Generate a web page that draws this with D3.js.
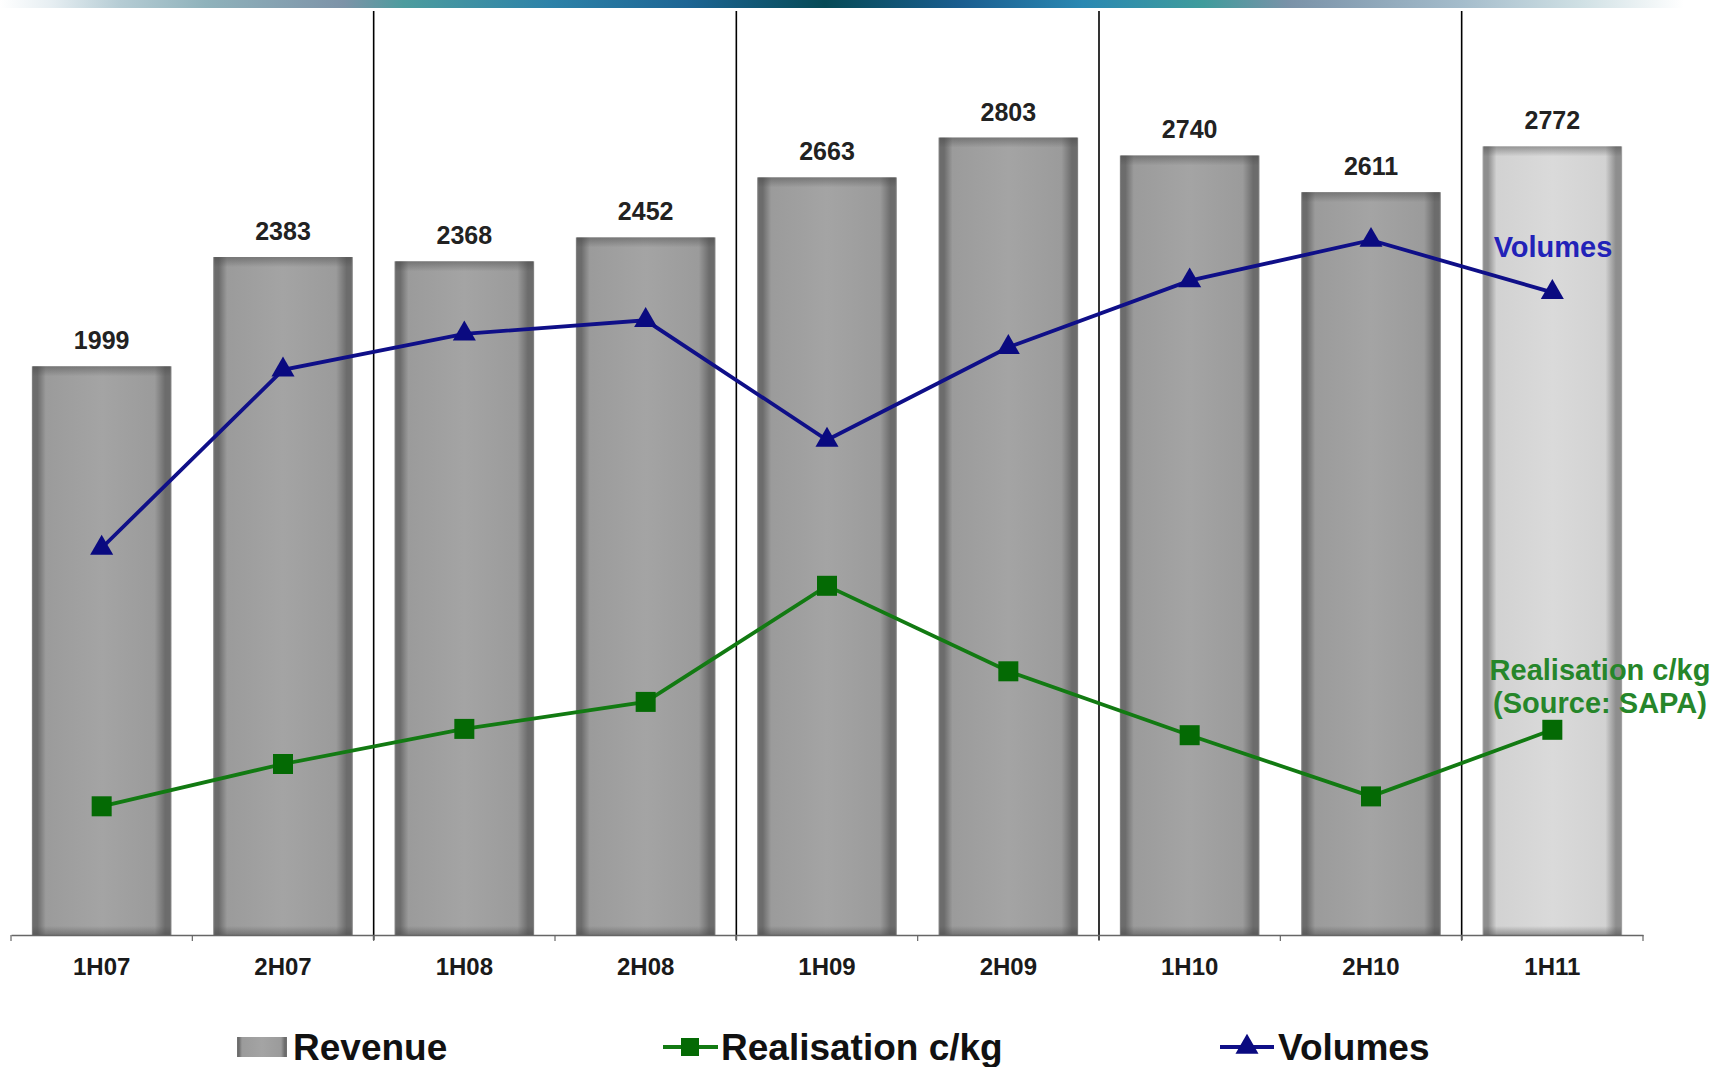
<!DOCTYPE html>
<html>
<head>
<meta charset="utf-8">
<script src="https://cdn.jsdelivr.net/npm/d3@7"></script>
<style>
  html, body { margin: 0; padding: 0; background: #ffffff; }
  svg { display: block; }
  text { font-family: "Liberation Sans", Arial, sans-serif; }
</style>
</head>
<body>
<svg id="chart" width="1718" height="1067"></svg>
<script>
// Half-year periods
const categories = ["1H07", "2H07", "1H08", "2H08", "1H09", "2H09", "1H10", "2H10", "1H11"];
// Revenue per half-year (bars, labelled)
const revenue = [1999, 2383, 2368, 2452, 2663, 2803, 2740, 2611, 2772];
// Volumes (index, plotted on its own unlabelled axis)
const volumes = [43.0, 62.8, 66.8, 68.3, 55.0, 65.3, 72.7, 77.2, 71.4];
// Realisation c/kg (index, plotted on its own unlabelled axis)
const realisation = [14.3, 19.0, 22.9, 25.9, 38.8, 29.3, 22.2, 15.4, 22.8];
// Periods shown as the latest / highlighted bar
const highlighted = ["1H11"];

const svg = d3.select("#chart");
const W = 1718, H = 1067;
const left = 11, right = 1643, baseY = 935;

const defs = svg.append("defs");

// Banner gradient along the top edge
const banner = defs.append("linearGradient").attr("id", "banner")
  .attr("x1", "0%").attr("x2", "100%").attr("y1", "0%").attr("y2", "0%");
[
  [0, "#ffffff"], [0.03, "#e6eef2"], [0.07, "#b5ccd4"], [0.12, "#8fb2bb"],
  [0.2, "#7d93a8"], [0.235, "#4d9c9e"], [0.32, "#2d82a8"], [0.4, "#1d6594"],
  [0.48, "#064a56"], [0.56, "#1b5e90"], [0.63, "#2a88b2"], [0.7, "#3f9c9c"],
  [0.75, "#7a92a8"], [0.85, "#a4bccb"], [0.92, "#cfe0e4"], [0.98, "#ffffff"], [1, "#ffffff"]
].forEach(([o, c]) => banner.append("stop").attr("offset", o).attr("stop-color", c));

// Bar shading: soft darker rim on the sides, flat middle
function barGradient(id, rim, dark, mid, centre) {
  const g = defs.append("linearGradient").attr("id", id)
    .attr("x1", "0%").attr("x2", "100%").attr("y1", "0%").attr("y2", "0%");
  [[0, rim], [0.012, dark], [0.04, dark], [0.1, mid], [0.5, centre], [0.88, mid],
   [0.955, dark], [0.988, dark], [1, rim]]
    .forEach(([o, c]) => g.append("stop").attr("offset", o).attr("stop-color", c));
}
barGradient("barDark", "#8a8a8a", "#6c6c6c", "#9b9b9b", "#a4a4a4");
barGradient("barLight", "#a8a8a8", "#8e8e8e", "#d2d2d2", "#dadada");

// Vertical shade strips for the top and bottom rims
function shade(id, fromTop) {
  const v = defs.append("linearGradient").attr("id", id)
    .attr("x1", "0%").attr("x2", "0%").attr("y1", fromTop ? "0%" : "100%").attr("y2", fromTop ? "100%" : "0%");
  v.append("stop").attr("offset", 0).attr("stop-color", "#444").attr("stop-opacity", 0.45);
  v.append("stop").attr("offset", 0.35).attr("stop-color", "#444").attr("stop-opacity", 0.3);
  v.append("stop").attr("offset", 1).attr("stop-color", "#444").attr("stop-opacity", 0);
}
shade("shadeTop", true);
shade("shadeBottom", false);

svg.append("rect").attr("x", 0).attr("y", 0).attr("width", W).attr("height", 8)
  .attr("fill", "url(#banner)");

// Scales
const x = d3.scaleBand().domain(categories).range([left, right])
  .paddingInner(0.23).paddingOuter(0.115);
const step = x.step();
const y = d3.scaleLinear().domain([0, 3000]).range([baseY, baseY - 3000 * 0.2845]);
const yVol = d3.scaleLinear().domain([0, 100]).range([baseY, 35]);
const yReal = d3.scaleLinear().domain([0, 100]).range([baseY, 35]);
const cx = c => x(c) + x.bandwidth() / 2;

// Bars
const bars = svg.append("g");
const rows = categories.map((c, i) => ({ c, v: revenue[i], hi: highlighted.includes(c) }));
bars.selectAll("rect.bar").data(rows).join("rect").attr("class", "bar")
  .attr("x", d => x(d.c)).attr("y", d => y(d.v))
  .attr("width", x.bandwidth()).attr("height", d => y(0) - y(d.v))
  .attr("fill", d => d.hi ? "url(#barLight)" : "url(#barDark)");
bars.selectAll("rect.top").data(rows).join("rect").attr("class", "top")
  .attr("x", d => x(d.c) + 1).attr("y", d => y(d.v))
  .attr("width", x.bandwidth() - 2).attr("height", 10)
  .attr("fill", "url(#shadeTop)");
bars.selectAll("rect.bottom").data(rows).join("rect").attr("class", "bottom")
  .attr("x", d => x(d.c) + 1).attr("y", y(0) - 9)
  .attr("width", x.bandwidth() - 2).attr("height", 9)
  .attr("fill", "url(#shadeBottom)");

// Value labels
svg.append("g").selectAll("text").data(rows).join("text")
  .attr("x", d => cx(d.c)).attr("y", d => y(d.v) - 17)
  .attr("text-anchor", "middle").attr("font-size", 25).attr("font-weight", "bold")
  .attr("fill", "#222").text(d => d.v);

// Year separators
svg.append("g").selectAll("line").data([2, 4, 6, 8]).join("line")
  .attr("x1", i => left + i * step).attr("x2", i => left + i * step)
  .attr("y1", 11).attr("y2", baseY + 5)
  .attr("stroke", "#000").attr("stroke-width", 1.6);

// Category axis
const axis = d3.axisBottom(x).tickSize(0).tickPadding(0);
const gx = svg.append("g").attr("transform", `translate(0,${baseY})`).call(axis);
gx.select(".domain").attr("stroke", "#666").attr("stroke-width", 1.5);
gx.selectAll(".tick text").attr("font-size", 24).attr("font-weight", "bold")
  .attr("fill", "#1a1a1a").attr("dy", 0).attr("y", 40)
  .attr("font-family", "'Liberation Sans', Arial, sans-serif");
svg.append("g").selectAll("line").data(d3.range(categories.length + 1)).join("line")
  .attr("x1", i => left + i * step).attr("x2", i => left + i * step)
  .attr("y1", baseY).attr("y2", baseY + 6).attr("stroke", "#666").attr("stroke-width", 1.2);

// Lines
const volColor = "#0f0f88", realColor = "#127a12";
const line = (scale) => d3.line().x(d => cx(d.c)).y(d => scale(d.v));
const volData = categories.map((c, i) => ({ c, v: volumes[i] }));
const realData = categories.map((c, i) => ({ c, v: realisation[i] }));

svg.append("path").datum(realData).attr("d", line(yReal))
  .attr("fill", "none").attr("stroke", realColor).attr("stroke-width", 3.8);
svg.append("g").selectAll("rect").data(realData).join("rect")
  .attr("x", d => cx(d.c) - 10).attr("y", d => yReal(d.v) - 10)
  .attr("width", 20).attr("height", 20).attr("fill", "#046a04");

svg.append("path").datum(volData).attr("d", line(yVol))
  .attr("fill", "none").attr("stroke", volColor).attr("stroke-width", 3.8);
const tri = d3.symbol().type(d3.symbolTriangle).size(230);
svg.append("g").selectAll("path").data(volData).join("path")
  .attr("transform", d => `translate(${cx(d.c)},${yVol(d.v)})`)
  .attr("d", tri).attr("fill", "#0a0a80");

// Series annotations
svg.append("text").attr("x", 1553).attr("y", 257).attr("text-anchor", "middle")
  .attr("font-size", 29).attr("font-weight", "bold").attr("fill", "#2222b8").text("Volumes");
const ann = svg.append("text").attr("text-anchor", "middle").attr("font-size", 29)
  .attr("font-weight", "bold").attr("fill", "#26862a");
ann.append("tspan").attr("x", 1600).attr("y", 680).text("Realisation c/kg");
ann.append("tspan").attr("x", 1600).attr("y", 713).text("(Source: SAPA)");

// Legend
const lg = svg.append("g");
const legY = 1047;
lg.append("rect").attr("x", 237).attr("y", legY - 10).attr("width", 50).attr("height", 20)
  .attr("fill", "url(#barDark)");
lg.append("text").attr("x", 293).attr("y", legY + 13).attr("font-size", 37)
  .attr("font-weight", "bold").attr("fill", "#111").text("Revenue");

lg.append("line").attr("x1", 663).attr("x2", 718).attr("y1", legY).attr("y2", legY)
  .attr("stroke", realColor).attr("stroke-width", 3.8);
lg.append("rect").attr("x", 690 - 9).attr("y", legY - 9).attr("width", 18).attr("height", 18)
  .attr("fill", "#046a04");
lg.append("text").attr("x", 721).attr("y", legY + 13).attr("font-size", 37)
  .attr("font-weight", "bold").attr("fill", "#111").text("Realisation c/kg");

lg.append("line").attr("x1", 1220).attr("x2", 1274).attr("y1", legY).attr("y2", legY)
  .attr("stroke", volColor).attr("stroke-width", 3.8);
lg.append("path").attr("transform", `translate(1247,${legY})`).attr("d", tri).attr("fill", "#0a0a80");
lg.append("text").attr("x", 1278).attr("y", legY + 13).attr("font-size", 37)
  .attr("font-weight", "bold").attr("fill", "#111").text("Volumes");
</script>
</body>
</html>
